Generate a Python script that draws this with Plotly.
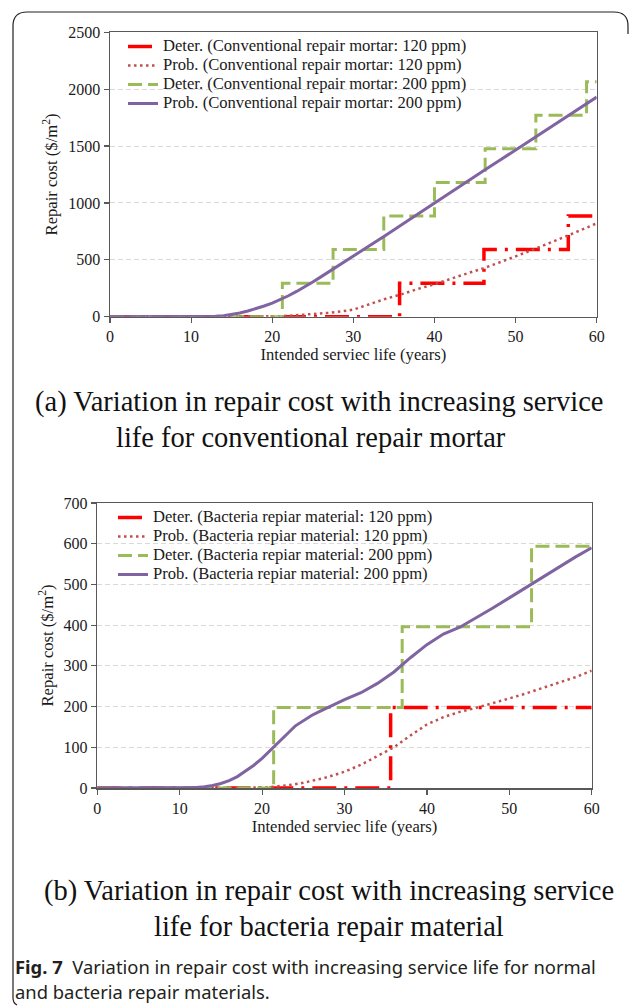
import plotly.graph_objects as go

W, H = 632, 1008

# ---------------- data: (a) conventional repair mortar ----------------
a_det120_years = [0, 35.7, 46.1, 56.5, 60]
a_det120_cost = [0, 295, 590, 885, 885]
a_det200_years = [0, 21.25, 27.5, 33.75, 40, 46.25, 52.5, 58.75, 60]
a_det200_cost = [0, 295, 590, 885, 1180, 1475, 1770, 2065, 2065]
a_prob_years = [0, 10, 12, 13, 14, 15, 16, 17, 18, 19, 20, 21, 22, 23, 24, 25, 26, 27, 28, 29, 30,
                32, 34, 36, 38, 40, 42, 44, 46, 48, 50, 52, 54, 56, 58, 60]
a_prob120_cost = [0, 0, 0, 0, 0, 0, 0, 0, 0, 1, 3, 5, 8, 12, 16, 21, 27, 34, 42, 51, 62,
                  110, 158, 198, 245, 285, 335, 380, 424, 475, 530, 585, 640, 700, 760, 820]
a_prob200_cost = [0, 0, 1, 3, 8, 18, 32, 50, 70, 94, 120, 150, 184, 222, 262, 305, 350, 395, 440, 487, 535,
                  625, 716, 810, 905, 1000, 1093, 1186, 1280, 1372, 1465, 1558, 1650, 1745, 1838, 1930]

# ---------------- data: (b) bacteria repair material ----------------
b_det120_years = [0, 35.6, 60]
b_det120_cost = [0, 198, 198]
b_det200_years = [0, 21.4, 37.0, 52.7, 60]
b_det200_cost = [0, 198, 396, 594, 594]
b_prob_years = a_prob_years
b_prob120_cost = [0, 0, 0, 0, 0, 0, 0, 0, 0, 0, 1, 2, 4, 6, 9, 13, 17, 22, 27, 33, 40,
                  57, 78, 100, 129, 156, 174, 187, 197, 208, 220, 232, 245, 258, 272, 288]
b_prob200_cost = [0, 0, 1, 3, 6, 11, 18, 28, 41, 56, 73, 92, 112, 132, 152, 165, 178, 188, 198, 208, 217,
                  234, 257, 285, 320, 352, 378, 395, 418, 442, 467, 492, 518, 544, 567, 590]

a_names = ["Deter. (Conventional repair mortar: 120 ppm)",
           "Prob. (Conventional repair mortar: 120 ppm)",
           "Deter. (Conventional repair mortar: 200 ppm)",
           "Prob. (Conventional repair mortar: 200 ppm)"]
b_names = ["Deter. (Bacteria repiar material: 120 ppm)",
           "Prob. (Bacteria repiar material: 120 ppm)",
           "Deter. (Bacteria repiar material: 200 ppm)",
           "Prob. (Bacteria repiar material: 200 ppm)"]

RED = "#FF0000"
DRED = "#C0504D"
GREEN = "#9BBB59"
PURPLE = "#8064A2"
SERIF = "Liberation Serif"
INK = "#1a1a1a"

styles = [
    dict(color=RED, width=3.5, dash="24px,8px,3px,8px", shape="hv"),
    dict(color=DRED, width=2.5, dash="2.5px,3.5px", shape="linear"),
    dict(color=GREEN, width=3, dash="14px,6px", shape="hv"),
    dict(color=PURPLE, width=3, dash="solid", shape="linear"),
]

def legend_label(name):
    # larger text inside a legend whose row height follows a smaller base font
    return f'<span style="font-size:16.6px">{name}</span>'

fig = go.Figure()

a_series = [(a_det120_years, a_det120_cost), (a_prob_years, a_prob120_cost),
            (a_det200_years, a_det200_cost), (a_prob_years, a_prob200_cost)]
b_series = [(b_det120_years, b_det120_cost), (b_prob_years, b_prob120_cost),
            (b_det200_years, b_det200_cost), (b_prob_years, b_prob200_cost)]

for (xs, ys), nm, st in zip(a_series, a_names, styles):
    fig.add_trace(go.Scatter(x=xs, y=ys, name=legend_label(nm), mode="lines", line=st,
                             xaxis="x", yaxis="y", legend="legend"))
for (xs, ys), nm, st in zip(b_series, b_names, styles):
    fig.add_trace(go.Scatter(x=xs, y=ys, name=legend_label(nm), mode="lines", line=st,
                             xaxis="x2", yaxis="y2", legend="legend2"))

AX = "#595959"
tickfont = dict(family=SERIF, size=16, color=INK)
titlefont = dict(family=SERIF, size=16.6, color=INK)

def xax(domain, anchor):
    return dict(domain=domain, anchor=anchor, range=[0, 60], tickmode="linear", tick0=0, dtick=10,
                showgrid=False, zeroline=False, showline=True, linecolor=AX, linewidth=1.5,
                mirror=True, ticks="outside", ticklen=5, tickcolor=AX, tickwidth=1.2,
                tickfont=tickfont, automargin=False,
                title=dict(text="Intended serviec life (years)", font=titlefont, standoff=4))

def yax(domain, anchor, top, step):
    return dict(domain=domain, anchor=anchor, range=[0, top], tickmode="linear", tick0=0, dtick=step,
                showgrid=True, gridcolor="#D9D9D9", gridwidth=1, griddash="5px,3px",
                zeroline=False, showline=True, linecolor=AX, linewidth=1.5,
                mirror=True, ticks="outside", ticklen=5, tickcolor=AX, tickwidth=1.2,
                tickfont=tickfont, automargin=False,
                title=dict(text="Repair cost ($/m<sup>2</sup>)", font=titlefont, standoff=6))

def px(x, y):
    return f"{x / W:.5f},{1 - y / H:.5f}"

frame_path = ("M " + px(13, 998) + " Q " + px(13, 1003) + " " + px(17, 1005) +
              " M " + px(13, 998) + " L " + px(13, 26) + " Q " + px(13, 12) + " " + px(27, 12) +
              " L " + px(614, 12) + " Q " + px(628, 12) + " " + px(628, 26) + " L " + px(628, 34))

legend_common = dict(xanchor="left", yanchor="top", bgcolor="rgba(0,0,0,0)",
                     font=dict(family=SERIF, size=12, color=INK), itemwidth=30, tracegroupgap=0)

fig.update_layout(
    width=W, height=H,
    margin=dict(l=0, r=0, t=0, b=0),
    paper_bgcolor="white", plot_bgcolor="white",
    xaxis=xax([110 / W, 596.7 / W], "y"),
    yaxis=yax([1 - 316.7 / H, 1 - 32.2 / H], "x", 2500, 500),
    xaxis2=xax([97.3 / W, 591.7 / W], "y2"),
    yaxis2=yax([1 - 788 / H, 1 - 503 / H], "x2", 700, 100),
    legend=dict(x=123 / W, y=1 - 32 / H, **legend_common),
    legend2=dict(x=113 / W, y=1 - 503 / H, **legend_common),
    shapes=[dict(type="path", xref="paper", yref="paper", path=frame_path,
                 line=dict(color="#231F20", width=1.2))],
    showlegend=True,
)

captions = [
    ("(a) Variation in repair cost with increasing service", 319, 402),
    ("life for conventional repair mortar", 311, 437),
    ("(b) Variation in repair cost with increasing service", 329, 891),
    ("life for bacteria repair material", 329, 926),
]
for txt, cx, cy in captions:
    fig.add_annotation(text=txt, x=cx / W, y=1 - cy / H, xref="paper", yref="paper",
                       xanchor="center", yanchor="middle", showarrow=False,
                       font=dict(family=SERIF, size=28.5, color="#111111"))

fig.add_annotation(text="<b>Fig. 7</b>  Variation in repair cost with increasing service life for normal",
                   x=13 / W, y=1 - 966 / H, xref="paper", yref="paper", xanchor="left", yanchor="middle",
                   showarrow=False, font=dict(family="Noto Sans", size=18.4, color="#231F20"))
fig.add_annotation(text="and bacteria repair materials.",
                   x=13 / W, y=1 - 991 / H, xref="paper", yref="paper", xanchor="left", yanchor="middle",
                   showarrow=False, font=dict(family="Noto Sans", size=18.4, color="#231F20"))

fig.write_html("out.html", config={"displayModeBar": False, "staticPlot": True},
               post_script="document.body.style.margin='0px';document.body.style.padding='0px';"
                           "document.body.style.overflow='hidden';"
                           "document.documentElement.style.overflow='hidden';")
